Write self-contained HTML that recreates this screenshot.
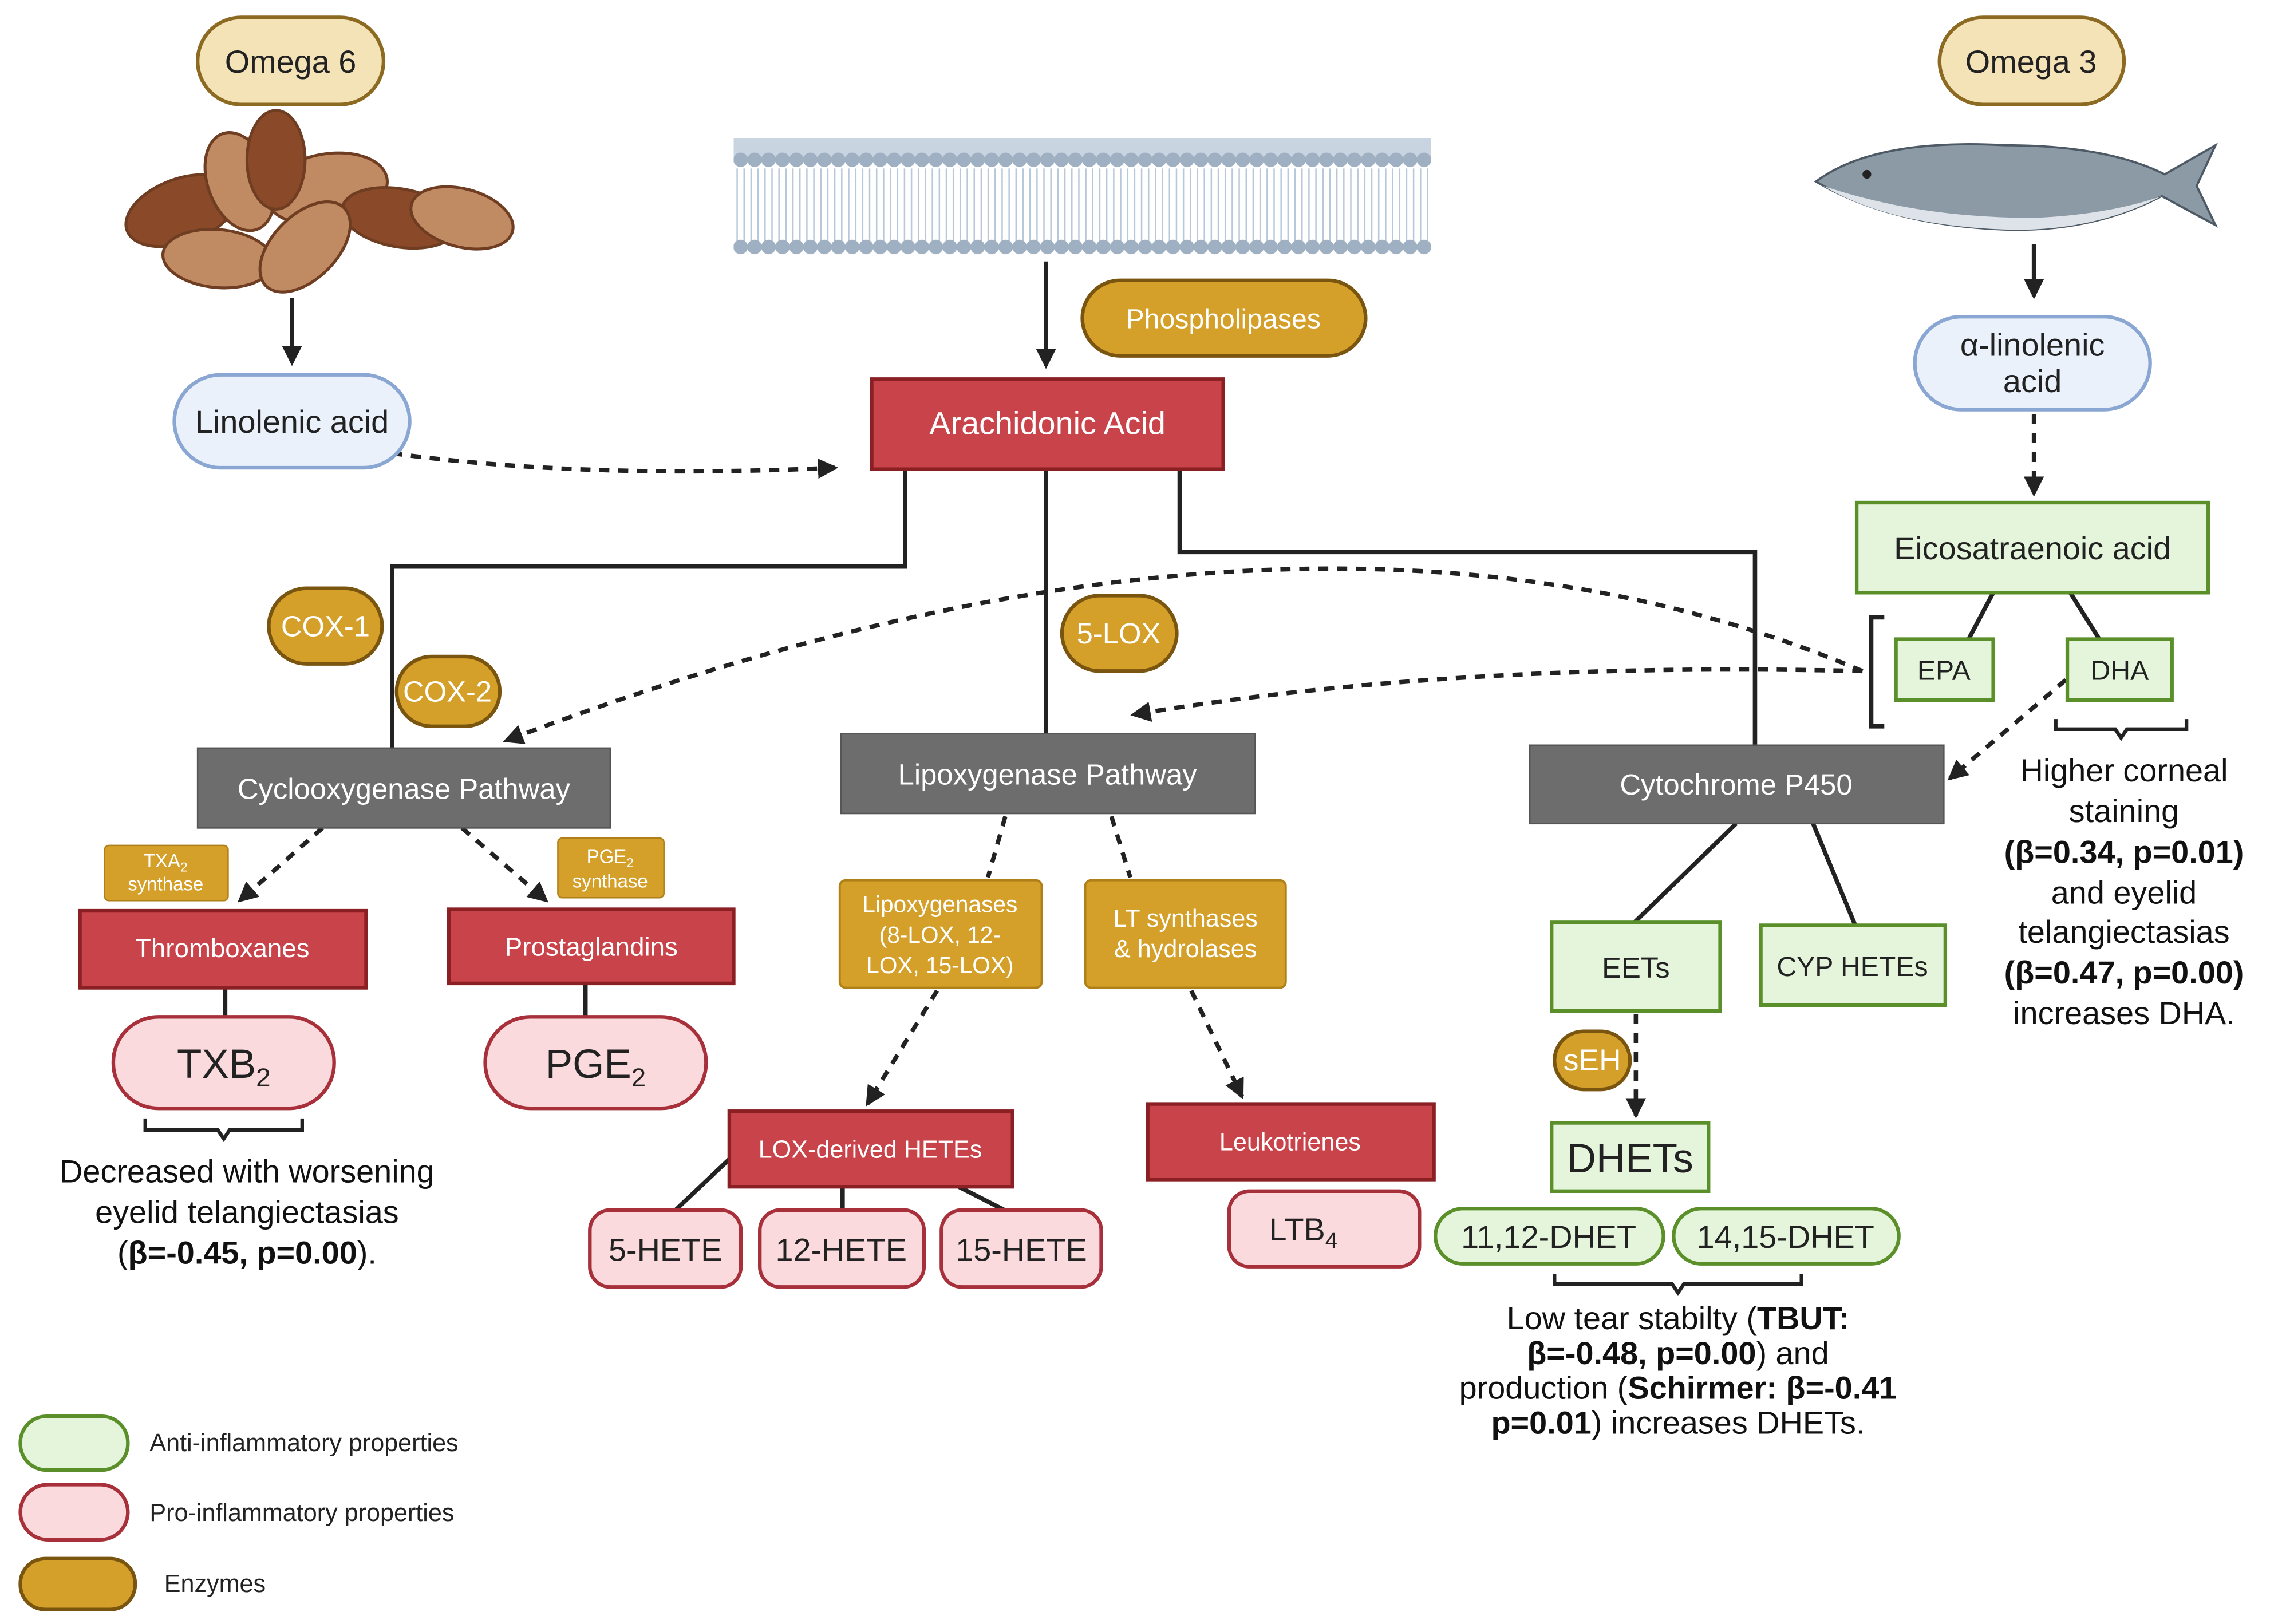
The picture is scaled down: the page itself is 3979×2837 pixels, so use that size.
<!DOCTYPE html>
<html><head><meta charset="utf-8"><style>html,body{margin:0;padding:0;background:#fff}svg{display:block}</style></head><body>
<svg width="3979" height="2837" viewBox="0 0 1568 1118" preserveAspectRatio="none" xmlns="http://www.w3.org/2000/svg" font-family="Liberation Sans, DejaVu Sans, sans-serif">
<defs>
<marker id="b" markerWidth="14" markerHeight="14" refX="12" refY="7" orient="auto" markerUnits="userSpaceOnUse"><path d="M0,0 L14,7 L0,14 Z" fill="#222"/></marker>
<pattern id="dots" x="505" y="0" width="9.6" height="20" patternUnits="userSpaceOnUse"><circle cx="4.8" cy="10" r="5" fill="#9fb0c2"/></pattern>
<pattern id="tails" x="505" y="0" width="4.8" height="60" patternUnits="userSpaceOnUse"><path d="M2.4,0 V60" stroke="#b7c8da" stroke-width="1"/></pattern>
</defs>
<rect width="1568" height="1118" fill="#fff"/>
<g stroke="#222" stroke-width="3" fill="none">
<path d="M623,323 V390 H270 V515"/>
<path d="M720,323 V505"/>
<path d="M812,323 V380 H1208 V513"/>
<path d="M201,205 V250" marker-end="url(#b)"/>
<path d="M720,180 V252" marker-end="url(#b)"/>
<path d="M1400,168 V204" marker-end="url(#b)"/>
<path d="M1372,408 L1355,440 M1425,408 L1445,440"/>
<path d="M155,680 V700 M403,678 V700"/>
<path d="M502,798 L465,833 M580,817 V836 M660,817 L705,840"/>
<path d="M1195,567 L1125,635 M1248,567 L1277,637"/>
<path d="M1297,425 H1288 V500 H1297"/>
</g>
<g stroke="#222" stroke-width="3" fill="none" stroke-dasharray="7,6">
<path d="M270,312 Q400,330 575,322" marker-end="url(#b)"/>
<path d="M1400,285 V340" marker-end="url(#b)"/>
<path d="M1282,462 Q900,300 348,510" marker-end="url(#b)"/>
<path d="M1282,462 Q1000,455 780,492" marker-end="url(#b)"/>
<path d="M1422,468 L1342,536" marker-end="url(#b)"/>
<path d="M222,570 L165,620" marker-end="url(#b)"/>
<path d="M318,570 L376,620" marker-end="url(#b)"/>
<path d="M692,562 L680,604"/>
<path d="M765,562 L778,604"/>
<path d="M645,682 L597,760" marker-end="url(#b)"/>
<path d="M820,682 L855,755" marker-end="url(#b)"/>
<path d="M1126,698 V768" marker-end="url(#b)"/>
</g>
<g stroke="#222" stroke-width="2.5" fill="none">
<path d="M100,770 V778 H150 L154,784 L158,778 H208 V770"/>
<path d="M1415,495 V502 H1456 L1460,508 L1464,502 H1505 V495"/>
<path d="M1070,877 V884 H1151 L1155,890 L1159,884 H1240 V877"/>
</g>
<!-- membrane -->
<rect x="505" y="95" width="480" height="14" fill="#c8d4e0"/>
<rect x="505" y="116" width="480" height="52" fill="url(#tails)"/>
<rect x="505" y="105" width="480" height="20" fill="url(#dots)"/>
<rect x="505" y="161" width="480" height="20" fill="url(#dots)"/>
<!-- almonds -->
<g fill="#c08a62" stroke="#6e3d22" stroke-width="2">
<ellipse cx="125" cy="145" rx="40" ry="22" transform="rotate(-20 125 145)" fill="#8a4a2a"/>
<ellipse cx="165" cy="125" rx="35" ry="22" transform="rotate(70 165 125)"/>
<ellipse cx="225" cy="130" rx="42" ry="24" transform="rotate(-10 225 130)"/>
<ellipse cx="275" cy="150" rx="40" ry="20" transform="rotate(10 275 150)" fill="#8a4a2a"/>
<ellipse cx="150" cy="178" rx="38" ry="20" transform="rotate(5 150 178)"/>
<ellipse cx="210" cy="170" rx="38" ry="22" transform="rotate(-45 210 170)"/>
<ellipse cx="318" cy="150" rx="36" ry="20" transform="rotate(15 318 150)"/>
<ellipse cx="190" cy="110" rx="20" ry="34" fill="#8a4a2a"/>
</g>
<!-- fish -->
<g>
<path d="M1250,125 Q1290,95 1380,100 Q1450,100 1490,120 L1525,100 L1512,128 L1525,155 L1488,135 Q1440,160 1380,158 Q1300,155 1250,125 Z" fill="#8c9aa6" stroke="#4d5a66" stroke-width="1.5"/>
<path d="M1255,128 Q1320,150 1400,150 Q1450,148 1488,135 Q1440,160 1380,158 Q1300,155 1255,128 Z" fill="#dde3e8"/>
<circle cx="1285" cy="120" r="3" fill="#222"/>
</g>
<g stroke-width="2.5">
<rect x="136" y="12" width="128" height="60" rx="30" fill="#f5e3b8" stroke="#8d6a22"/>
<rect x="1335" y="12" width="127" height="60" rx="30" fill="#f5e3b8" stroke="#8d6a22"/>
<rect x="120" y="258" width="162" height="64" rx="32" fill="#eaf1fb" stroke="#8aa6d2"/>
<rect x="1318" y="218" width="162" height="64" rx="32" fill="#eaf1fb" stroke="#8aa6d2"/>
<rect x="745" y="193" width="195" height="52" rx="26" fill="#d4a02a" stroke="#7a5510"/>
<rect x="185" y="405" width="78" height="52" rx="26" fill="#d4a02a" stroke="#7a5510"/>
<rect x="273" y="452" width="71" height="48" rx="24" fill="#d4a02a" stroke="#7a5510"/>
<rect x="731" y="410" width="79" height="52" rx="26" fill="#d4a02a" stroke="#7a5510"/>
<rect x="1070" y="710" width="52" height="40" rx="20" fill="#d4a02a" stroke="#7a5510"/>
<rect x="72" y="582" width="85" height="38" rx="3" fill="#d4a02a" stroke="#b08018" stroke-width="1"/>
<rect x="384" y="577" width="73" height="41" rx="3" fill="#d4a02a" stroke="#b08018" stroke-width="1"/>
<rect x="578" y="606" width="139" height="74" rx="4" fill="#d4a02a" stroke="#b08018" stroke-width="1.5"/>
<rect x="747" y="606" width="138" height="74" rx="4" fill="#d4a02a" stroke="#b08018" stroke-width="1.5"/>
<rect x="600" y="261" width="242" height="62" fill="#c9444a" stroke="#8a1f24"/>
<rect x="55" y="627" width="197" height="53" fill="#c9444a" stroke="#8a1f24"/>
<rect x="309" y="626" width="196" height="51" fill="#c9444a" stroke="#8a1f24"/>
<rect x="502" y="765" width="195" height="52" fill="#c9444a" stroke="#8a1f24"/>
<rect x="790" y="760" width="197" height="52" fill="#c9444a" stroke="#8a1f24"/>
<rect x="136" y="515" width="284" height="55" fill="#6d6d6d" stroke="#555" stroke-width="1"/>
<rect x="579" y="505" width="285" height="55" fill="#6d6d6d" stroke="#555" stroke-width="1"/>
<rect x="1053" y="513" width="285" height="54" fill="#6d6d6d" stroke="#555" stroke-width="1"/>
<rect x="1278" y="346" width="242" height="62" fill="#e5f5dc" stroke="#5a8f2a"/>
<rect x="1305" y="440" width="67" height="42" fill="#e5f5dc" stroke="#5a8f2a"/>
<rect x="1423" y="440" width="72" height="42" fill="#e5f5dc" stroke="#5a8f2a"/>
<rect x="1068" y="635" width="116" height="61" fill="#e5f5dc" stroke="#5a8f2a"/>
<rect x="1212" y="637" width="127" height="55" fill="#e5f5dc" stroke="#5a8f2a"/>
<rect x="1068" y="773" width="108" height="47" fill="#e5f5dc" stroke="#5a8f2a"/>
<rect x="988" y="832" width="157" height="38" rx="19" fill="#e5f5dc" stroke="#5a8f2a"/>
<rect x="1152" y="832" width="155" height="38" rx="19" fill="#e5f5dc" stroke="#5a8f2a"/>
<rect x="78" y="700" width="152" height="63" rx="31" fill="#fadadd" stroke="#a8303a"/>
<rect x="334" y="700" width="152" height="63" rx="31" fill="#fadadd" stroke="#a8303a"/>
<rect x="406" y="833" width="104" height="53" rx="14" fill="#fadadd" stroke="#a8303a"/>
<rect x="523" y="833" width="113" height="53" rx="14" fill="#fadadd" stroke="#a8303a"/>
<rect x="648" y="833" width="110" height="53" rx="14" fill="#fadadd" stroke="#a8303a"/>
<rect x="846" y="820" width="131" height="52" rx="14" fill="#fadadd" stroke="#a8303a"/>
<rect x="14" y="975" width="74" height="37" rx="18" fill="#e5f5dc" stroke="#5a8f2a"/>
<rect x="14" y="1022" width="74" height="38" rx="19" fill="#fadadd" stroke="#a8303a"/>
<rect x="14" y="1073" width="79" height="35" rx="17" fill="#d4a02a" stroke="#7a5510"/>
</g>
<g text-anchor="middle" fill="#222" font-size="22">
<text x="200" y="50">Omega 6</text>
<text x="1398" y="50">Omega 3</text>
<text x="201" y="298">Linolenic acid</text>
<text x="1399" y="245">α-linolenic</text>
<text x="1399" y="270">acid</text>
<text x="1399" y="385">Eicosatraenoic acid</text>
<text x="1338" y="468" font-size="19">EPA</text>
<text x="1459" y="468" font-size="19">DHA</text>
<text x="1126" y="673" font-size="20">EETs</text>
<text x="1275" y="672" font-size="19">CYP HETEs</text>
<text x="1122" y="807" font-size="28">DHETs</text>
<text x="1066" y="859">11,12-DHET</text>
<text x="1229" y="859">14,15-DHET</text>
<text x="154" y="742" font-size="28">TXB<tspan font-size="18" dy="6">2</tspan></text>
<text x="410" y="742" font-size="28">PGE<tspan font-size="18" dy="6">2</tspan></text>
<text x="458" y="868">5-HETE</text>
<text x="579" y="868">12-HETE</text>
<text x="703" y="868">15-HETE</text>
<text x="897" y="854">LTB<tspan font-size="15" dy="5">4</tspan></text>
</g>
<g text-anchor="middle" fill="#fff" font-size="20">
<text x="842" y="226" font-size="19">Phospholipases</text>
<text x="721" y="299" font-size="22">Arachidonic Acid</text>
<text x="224" y="438">COX-1</text>
<text x="308" y="483">COX-2</text>
<text x="770" y="443">5-LOX</text>
<text x="1096" y="737" font-size="21">sEH</text>
<text x="278" y="550">Cyclooxygenase Pathway</text>
<text x="721" y="540">Lipoxygenase Pathway</text>
<text x="1195" y="547">Cytochrome P450</text>
<text x="114" y="597" font-size="13">TXA<tspan font-size="9" dy="3">2</tspan></text>
<text x="114" y="613" font-size="13">synthase</text>
<text x="420" y="594" font-size="13">PGE<tspan font-size="9" dy="3">2</tspan></text>
<text x="420" y="611" font-size="13">synthase</text>
<text x="647" y="628" font-size="16">Lipoxygenases</text>
<text x="647" y="649" font-size="16">(8-LOX, 12-</text>
<text x="647" y="670" font-size="16">LOX, 15-LOX)</text>
<text x="816" y="638" font-size="17">LT synthases</text>
<text x="816" y="659" font-size="17">&amp; hydrolases</text>
<text x="153" y="659" font-size="18">Thromboxanes</text>
<text x="407" y="658" font-size="18">Prostaglandins</text>
<text x="599" y="797" font-size="17">LOX-derived HETEs</text>
<text x="888" y="792" font-size="17">Leukotrienes</text>
</g>
<g text-anchor="middle" fill="#111" font-size="22">
<text x="1462" y="538">Higher corneal</text>
<text x="1462" y="566">staining</text>
<text x="1462" y="594" font-weight="bold">(β=0.34, p=0.01)</text>
<text x="1462" y="622">and eyelid</text>
<text x="1462" y="649">telangiectasias</text>
<text x="1462" y="677" font-weight="bold">(β=0.47, p=0.00)</text>
<text x="1462" y="705">increases DHA.</text>
<text x="170" y="814">Decreased with worsening</text>
<text x="170" y="842">eyelid telangiectasias</text>
<text x="170" y="870">(<tspan font-weight="bold">β=-0.45, p=0.00</tspan>).</text>
<text x="1155" y="915">Low tear stabilty (<tspan font-weight="bold">TBUT:</tspan></text>
<text x="1155" y="939"><tspan font-weight="bold">β=-0.48, p=0.00</tspan>) and</text>
<text x="1155" y="963">production (<tspan font-weight="bold">Schirmer: β=-0.41</tspan></text>
<text x="1155" y="987"><tspan font-weight="bold">p=0.01</tspan>) increases DHETs.</text>
</g>
<g fill="#222" font-size="17">
<text x="103" y="999">Anti-inflammatory properties</text>
<text x="103" y="1047">Pro-inflammatory properties</text>
<text x="113" y="1096">Enzymes</text>
</g>
</svg>
</body></html>
